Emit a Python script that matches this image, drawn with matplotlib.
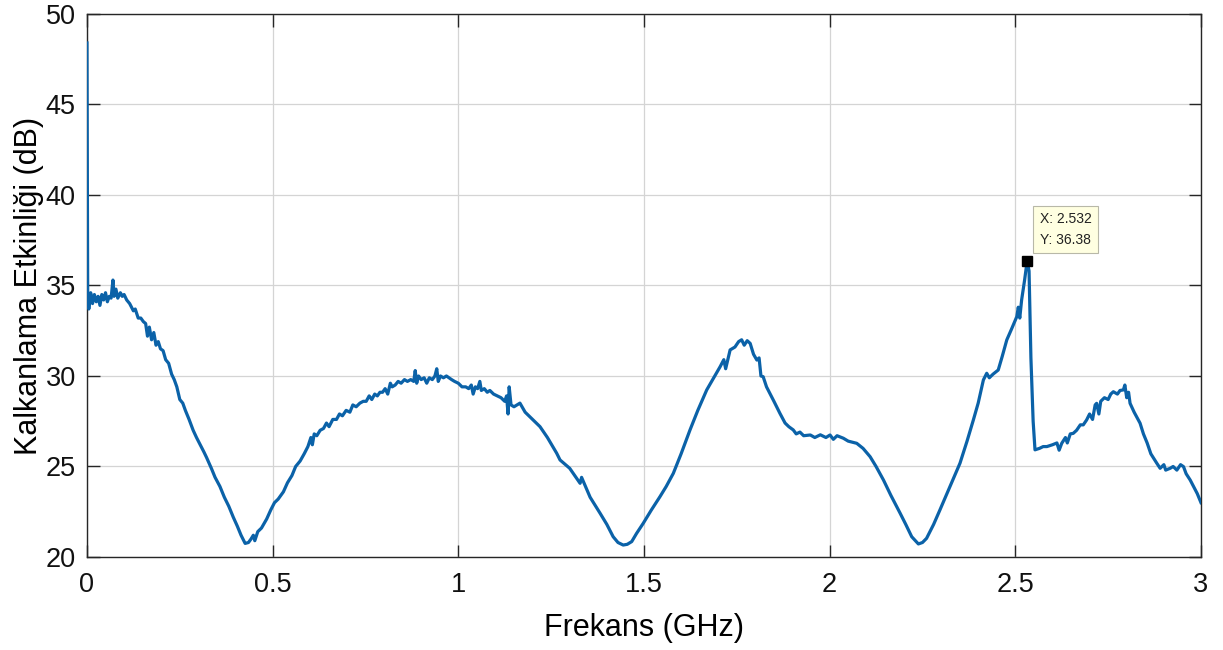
import matplotlib
matplotlib.use("Agg")
import matplotlib.pyplot as plt

plt.rcParams["font.family"] = ["Liberation Sans", "DejaVu Sans"]

# frekans (GHz) / kalkanlama etkinligi (dB), okunan degerler
freq_ghz = [
    0.000, 0.002, 0.005, 0.010, 0.015, 0.020, 0.025, 0.030, 0.035, 0.040,
    0.045, 0.050, 0.055, 0.060, 0.065, 0.070, 0.073, 0.078, 0.083, 0.090,
    0.095, 0.100, 0.107, 0.115, 0.125, 0.130, 0.138, 0.145, 0.152, 0.158,
    0.163, 0.168, 0.174, 0.180, 0.186, 0.192, 0.198, 0.205, 0.212, 0.220,
    0.228, 0.235, 0.242, 0.250, 0.258, 0.265, 0.275, 0.286, 0.295, 0.305,
    0.315, 0.322, 0.335, 0.345, 0.358, 0.370, 0.382, 0.394, 0.405, 0.415,
    0.426, 0.435, 0.442, 0.448, 0.452, 0.460, 0.470, 0.484, 0.495, 0.505,
    0.515, 0.529, 0.540, 0.552, 0.562, 0.574, 0.585, 0.595, 0.603, 0.607,
    0.612, 0.619, 0.628, 0.637, 0.645, 0.652, 0.662, 0.672, 0.680, 0.688,
    0.698, 0.708, 0.716, 0.725, 0.735, 0.744, 0.752, 0.760, 0.767, 0.775,
    0.782, 0.789, 0.796, 0.803, 0.810, 0.817, 0.822, 0.830, 0.838, 0.846,
    0.855, 0.863, 0.872, 0.880, 0.884, 0.888, 0.893, 0.900, 0.908, 0.915,
    0.922, 0.930, 0.937, 0.942, 0.946, 0.952, 0.960, 0.968, 0.975, 0.982,
    0.990, 1.000, 1.010, 1.020, 1.028, 1.035, 1.040, 1.046, 1.052, 1.058,
    1.062, 1.070, 1.078, 1.085, 1.095, 1.105, 1.115, 1.125, 1.130, 1.134,
    1.137, 1.142, 1.150, 1.166, 1.180, 1.195, 1.220, 1.240, 1.265, 1.274,
    1.300, 1.328, 1.332, 1.355, 1.382, 1.400, 1.417, 1.430, 1.444, 1.455,
    1.467, 1.480, 1.498, 1.520, 1.543, 1.560, 1.579, 1.600, 1.624, 1.645,
    1.669, 1.685, 1.705, 1.715, 1.720, 1.732, 1.745, 1.755, 1.763, 1.770,
    1.778, 1.786, 1.795, 1.804, 1.810, 1.815, 1.821, 1.830, 1.839, 1.850,
    1.866, 1.880, 1.890, 1.902, 1.910, 1.920, 1.930, 1.948, 1.960, 1.975,
    1.990, 2.001, 2.010, 2.020, 2.037, 2.050, 2.073, 2.090, 2.109, 2.125,
    2.145, 2.165, 2.190, 2.205, 2.221, 2.239, 2.250, 2.261, 2.280, 2.297,
    2.320, 2.351, 2.370, 2.387, 2.400, 2.414, 2.423, 2.430, 2.440, 2.454,
    2.465, 2.477, 2.490, 2.504, 2.508, 2.512, 2.517, 2.525, 2.532, 2.537,
    2.542, 2.548, 2.553, 2.565, 2.575, 2.585, 2.600, 2.612, 2.618, 2.625,
    2.635, 2.640, 2.648, 2.656, 2.665, 2.675, 2.683, 2.692, 2.700, 2.708,
    2.715, 2.719, 2.725, 2.730, 2.740, 2.750, 2.757, 2.764, 2.775, 2.782,
    2.791, 2.795, 2.800, 2.805, 2.809, 2.820, 2.836, 2.845, 2.855, 2.865,
    2.881, 2.890, 2.900, 2.905, 2.917, 2.925, 2.935, 2.945, 2.953, 2.960,
    2.971, 2.980, 2.990, 3.000,
]
se_db = [
    48.4, 34.5, 33.7, 34.6, 34.0, 34.5, 34.1, 34.4, 33.9, 34.5,
    34.2, 34.6, 34.1, 34.4, 34.3, 35.3, 34.4, 34.8, 34.3, 34.6,
    34.4, 34.5, 34.2, 34.0, 33.6, 33.7, 33.2, 33.2, 33.0, 32.9,
    32.2, 32.7, 32.0, 32.4, 31.7, 31.9, 31.5, 31.4, 30.9, 30.7,
    30.1, 29.8, 29.4, 28.7, 28.5, 28.1, 27.6, 27.0, 26.6, 26.2,
    25.8, 25.5, 24.9, 24.4, 23.9, 23.3, 22.8, 22.2, 21.7, 21.2,
    20.75, 20.8, 21.0, 21.2, 20.9, 21.4, 21.6, 22.1, 22.6, 23.0,
    23.2, 23.6, 24.1, 24.5, 25.0, 25.3, 25.7, 26.1, 26.6, 26.2,
    26.8, 26.7, 27.0, 27.1, 27.4, 27.2, 27.6, 27.6, 27.9, 27.8,
    28.1, 28.0, 28.4, 28.3, 28.5, 28.6, 28.6, 28.9, 28.7, 29.0,
    28.9, 29.1, 29.1, 29.3, 29.0, 29.6, 29.4, 29.5, 29.7, 29.6,
    29.8, 29.7, 29.8, 29.7, 30.3, 29.6, 30.0, 29.8, 29.9, 29.6,
    29.9, 29.8, 30.0, 30.4, 29.7, 30.0, 29.9, 30.0, 29.9, 29.8,
    29.7, 29.6, 29.4, 29.4, 29.3, 29.5, 29.0, 29.4, 29.3, 29.7,
    29.2, 29.3, 29.1, 29.2, 29.0, 28.9, 28.8, 28.6, 28.9, 27.9,
    29.4, 28.4, 28.3, 28.5, 28.0, 27.7, 27.2, 26.6, 25.73, 25.36,
    24.9, 24.07, 24.4, 23.3, 22.41, 21.8, 21.12, 20.8, 20.66, 20.7,
    20.85, 21.3, 21.86, 22.6, 23.33, 23.9, 24.62, 25.7, 27.02, 28.1,
    29.23, 29.8, 30.51, 30.9, 30.4, 31.44, 31.6, 31.9, 32.0, 31.7,
    31.95, 31.8, 31.2, 30.88, 31.0, 30.0, 29.96, 29.4, 29.04, 28.6,
    27.94, 27.4, 27.2, 27.02, 26.8, 26.9, 26.7, 26.74, 26.6, 26.75,
    26.6, 26.74, 26.5, 26.7, 26.56, 26.4, 26.28, 26.0, 25.54, 25.0,
    24.25, 23.4, 22.41, 21.8, 21.12, 20.72, 20.8, 21.03, 21.8, 22.6,
    23.7, 25.18, 26.4, 27.57, 28.5, 29.78, 30.15, 29.9, 30.1, 30.33,
    31.1, 31.99, 32.6, 33.28, 33.8, 33.2, 34.2, 35.3, 36.38, 35.8,
    31.0, 27.5, 25.92, 26.0, 26.1, 26.1, 26.2, 26.3, 25.9, 26.28,
    26.6, 26.3, 26.8, 26.83, 27.0, 27.3, 27.3, 27.57, 27.9, 27.6,
    28.4, 28.49, 27.9, 28.6, 28.8, 28.7, 29.0, 29.13, 29.0, 29.2,
    29.23, 29.5, 28.8, 29.1, 28.49, 28.0, 27.39, 26.8, 26.3, 25.7,
    25.18, 24.9, 25.1, 24.8, 24.9, 25.0, 24.8, 25.1, 24.99, 24.6,
    24.25, 23.9, 23.5, 23.0,
]

# veri imleci
tip_x = 2.532
tip_y = 36.38

x_ticks = [0, 0.5, 1, 1.5, 2, 2.5, 3]
x_tick_labels = ["0", "0.5", "1", "1.5", "2", "2.5", "3"]
y_ticks = [20, 25, 30, 35, 40, 45, 50]

fig = plt.figure(figsize=(12.23, 6.5), dpi=100)
ax = fig.add_axes([0.0711, 0.1431, 0.9109, 0.8354])

ax.plot(freq_ghz, se_db, color="#0b62a8", linewidth=2.3, zorder=3)

ax.plot([tip_x], [tip_y], marker="s", color="black", markersize=7.5,
        linestyle="none", zorder=5)
ax.annotate(f"X: {tip_x}\nY: {tip_y}", xy=(tip_x, tip_y),
            xytext=(9, 10), textcoords="offset points",
            fontsize=10, color="#222222", linespacing=1.6,
            ha="left", va="bottom", zorder=6,
            bbox=dict(boxstyle="square,pad=0.45", facecolor="#ffffe1",
                      edgecolor="#b8b8a8", linewidth=0.8))

ax.set_xlim(0, 3)
ax.set_ylim(20, 50)
ax.set_xticks(x_ticks)
ax.set_xticklabels(x_tick_labels)
ax.set_yticks(y_ticks)

ax.grid(True, color="#d4d4d4", linewidth=0.9)
ax.set_axisbelow(True)
for side in ax.spines.values():
    side.set_color("#262626")
    side.set_linewidth(1.0)
ax.tick_params(direction="in", length=9, width=1.0, colors="#262626",
               labelsize=19.5, top=True, right=True)
ax.tick_params(axis="x", pad=10.5)
ax.tick_params(axis="y", pad=8)
for lbl in ax.get_xticklabels() + ax.get_yticklabels():
    lbl.set_color("#111111")

ax.set_xlabel("Frekans (GHz)", fontsize=22, labelpad=11)
ax.set_ylabel("Kalkanlama Etkinliği (dB)", fontsize=22, labelpad=1)

fig.savefig("out.png", dpi=100, facecolor="white")
